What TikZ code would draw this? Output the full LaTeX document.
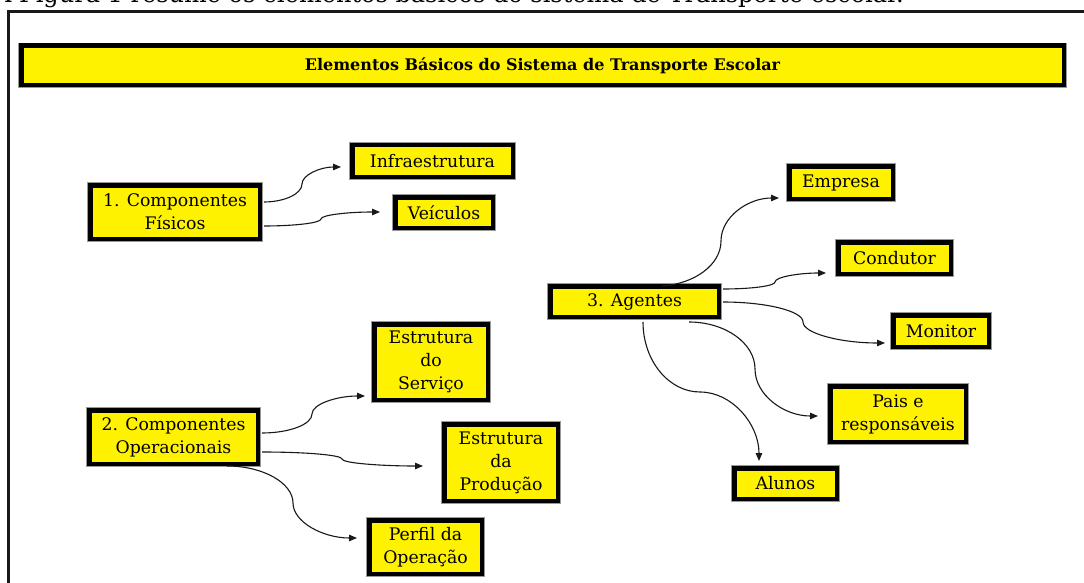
\documentclass[tikz,border=0pt]{standalone}
\usepackage{fontspec}
\setmainfont{DejaVu Serif}
\usetikzlibrary{arrows.meta,calc}
\begin{document}
\begin{tikzpicture}[x=1pt,y=-1pt,
  box/.style={draw=black, fill=yellow, line width=4.5pt, inner sep=0pt, align=center,
    font=\fontsize{17.3}{23}\selectfont, preaction={draw=black!40, line width=6pt}},
  conn/.style={draw=black!90, line width=1.1pt, -{Triangle[length=8pt,width=6.5pt]}},
  frame/.style={draw=black!90, line width=3pt}]
\useasboundingbox (0,0) rectangle (1084,583);

% partially visible introductory line
\node[anchor=base west, inner sep=0pt, font=\fontsize{24}{28}\selectfont] (intro) at (-6,3)
  {A Figura 1 resume os elementos básicos do sistema de Transporte escolar.};

% outer frame
\draw[frame] (1095,11.5) -- (8,11.5) -- (8,595);

% title bar
\node[box, minimum width=1042.5pt, minimum height=39.5pt, font=\fontsize{16}{18}\selectfont\bfseries] (title) at (542.5,65.5)
  {Elementos\ Básicos\ do\ Sistema\ de\ Transporte\ Escolar};

% group 1
\node[box, minimum width=169.5pt, minimum height=53.5pt] (c1) at (175,212) {1. Componentes\\Físicos};
\node[box, minimum width=160.5pt, minimum height=31.5pt] (infra) at (432.5,161) {Infraestrutura};
\node[box, minimum width=97.5pt, minimum height=30.5pt] (veic) at (444,212.5) {Veículos};

% group 2
\node[box, minimum width=168.5pt, minimum height=53.5pt] (c2) at (173.5,437) {2. Componentes\\Operacionais};
\node[box, minimum width=113.5pt, minimum height=75.5pt] (serv) at (431,362) {Estrutura\\do\\Serviço};
\node[box, minimum width=113.5pt, minimum height=76.5pt] (prod) at (501,462.5) {Estrutura\\da\\Produção};
\node[box, minimum width=112.5pt, minimum height=53.5pt] (perfil) at (425.5,547) {Perfil da\\Operação};

% group 3
\node[box, minimum width=168.5pt, minimum height=30.5pt] (ag) at (634.5,301.5) {3. Agentes};
\node[box, minimum width=103.5pt, minimum height=32.5pt] (emp) at (841,182.5) {Empresa};
\node[box, minimum width=112.5pt, minimum height=31.5pt] (cond) at (894.5,258) {Condutor};
\node[box, minimum width=95.5pt, minimum height=31.5pt] (mon) at (941,331) {Monitor};
\node[box, minimum width=135.5pt, minimum height=55.5pt] (pais) at (898,414) {Pais e\\responsáveis};
\node[box, minimum width=102.5pt, minimum height=30.5pt] (alunos) at (785.5,483.5) {Alunos};

% connectors group 1
\draw[conn] ($(c1.east)+(2,-10)$) .. controls (284,202) and (302,194) .. (302,184)
  .. controls (302,175) and (320,167) .. ($(infra.west)+(-9,6)$);
\draw[conn] ($(c1.east)+(2,14)$) .. controls (294,226) and (321,223) .. (321,219)
  .. controls (321,215) and (348,212) .. ($(veic.west)+(-13,-0.5)$);

% connectors group 2
\draw[conn] ($(c2.east)+(2,-4)$) .. controls (289,433) and (312,424.5) .. (312,414)
  .. controls (312,404) and (337,396) .. ($(serv.west)+(-7,34)$);
\draw[conn] ($(c2.east)+(2,15)$) .. controls (305,452) and (342,455) .. (342,459)
  .. controls (342,463) and (380,466) .. ($(prod.west)+(-19,3.5)$);
\draw[conn] ($(c2.south)+(53.5,0)$) .. controls (263,466) and (293,483) .. (293,503)
  .. controls (293,522) and (323,538) .. ($(perfil.west)+(-10,-9)$);

% connectors group 3
\draw[conn] ($(ag.north)+(27.5,2)$) .. controls (694,284) and (721,265) .. (721,241)
  .. controls (721,217) and (748,198) .. ($(emp.west)+(-8,15.5)$);
\draw[conn] ($(ag.east)+(2,-12.5)$) .. controls (751,289) and (775,286) .. (775,282)
  .. controls (775,277) and (799,273) .. ($(cond.west)+(-10,15)$);
\draw[conn] ($(ag.east)+(2,0.5)$) .. controls (766,302) and (803,311) .. (803,322)
  .. controls (803,333.5) and (841,343) .. ($(mon.west)+(-6,12)$);
\draw[conn] ($(ag.south)+(54.5,3)$) .. controls (725,322) and (755,343) .. (755,369)
  .. controls (755,395) and (784,416) .. ($(pais.west)+(-10,2)$);
\draw[conn] ($(ag.south)+(8.5,3)$) .. controls (643,360.5) and (668.6,392) .. (700,392)
  .. controls (732,392) and (759,424) .. ($(alunos.north)+(-26.5,-5)$);
\end{tikzpicture}
\end{document}
